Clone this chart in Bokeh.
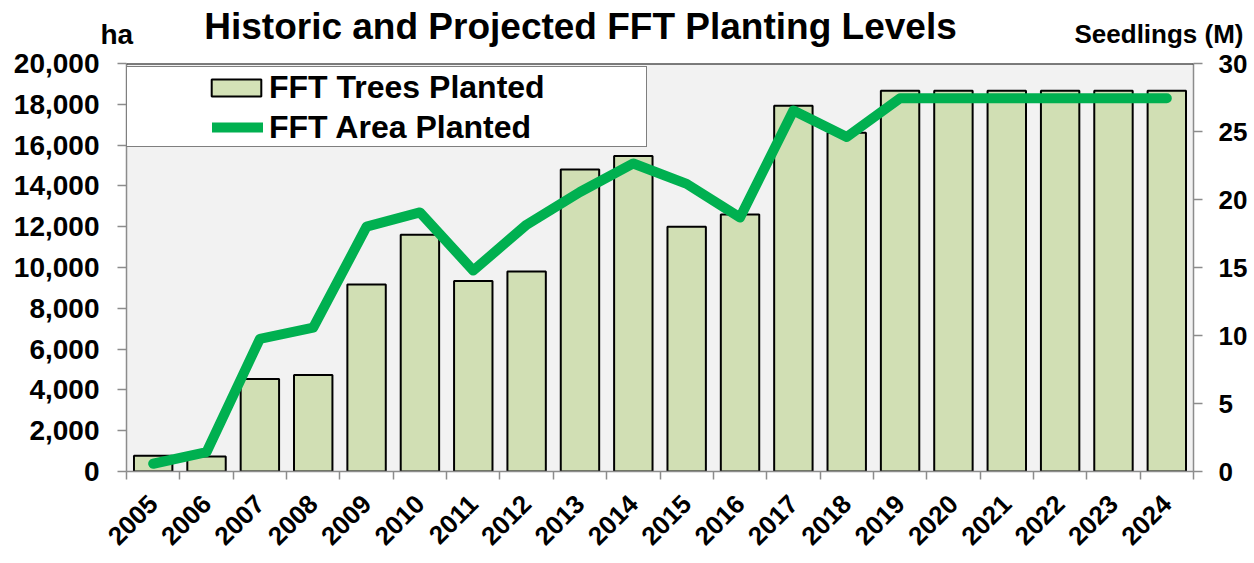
from bokeh.plotting import figure
from bokeh.layouts import column
from bokeh.models import (Range1d, LinearAxis, FixedTicker, NumeralTickFormatter,
                          Label, Legend, LegendItem, Span)
from bokeh.embed import file_html
from bokeh.resources import INLINE
import math

years = list(range(2005, 2025))
trees_m = [1.15, 1.1, 6.8, 7.1, 13.75, 17.4, 14.0, 14.7, 22.2, 23.2,
           18.0, 18.9, 26.9, 24.9, 28.0, 28.0, 28.0, 28.0, 28.0, 28.0]
area_ha = [380, 950, 6500, 7050, 12000, 12700, 9850, 12100, 13700, 15100,
           14100, 12450, 17700, 16400, 18300, 18300, 18300, 18300, 18300, 18300]
left_ticks = list(range(0, 20001, 2000))
right_ticks = [0, 5, 10, 15, 20, 25, 30]

FONT = "Liberation Sans"
GRID = "#8c8c8c"
W = 1254
HEAD_H = 52
MAIN_H = 563 - HEAD_H

# ---------- header with the title texts ----------
head = figure(width=W, height=HEAD_H, output_backend="svg", toolbar_location=None,
              x_range=Range1d(0, W), y_range=Range1d(0, HEAD_H),
              min_border=0, x_axis_type=None, y_axis_type=None)
head.frame_align = False
head.outline_line_color = None
head.xgrid.visible = False
head.ygrid.visible = False
head.background_fill_color = "white"
head.border_fill_color = "white"
head.add_layout(Label(x=580, y=26, x_units="screen", y_units="screen",
                      text="Historic and Projected FFT Planting Levels",
                      text_align="center", text_baseline="alphabetic",
                      text_font=FONT, text_font_style="bold", text_font_size="37px",
                      text_color="black"))
head.add_layout(Label(x=100, y=18, x_units="screen", y_units="screen", text="ha",
                      text_align="left", text_baseline="alphabetic",
                      text_font=FONT, text_font_style="bold", text_font_size="28px",
                      text_color="black"))
head.add_layout(Label(x=1074, y=19, x_units="screen", y_units="screen", text="Seedlings (M)",
                      text_align="left", text_baseline="alphabetic",
                      text_font=FONT, text_font_style="bold", text_font_size="26px",
                      text_color="black"))

# ---------- main chart ----------
p = figure(width=W, height=MAIN_H, output_backend="svg", toolbar_location=None,
           x_range=Range1d(years[0] - 0.5, years[-1] + 0.5),
           y_range=Range1d(0, 20000),
           min_border_left=126, min_border_right=61, min_border_top=11, min_border_bottom=92,
           x_axis_type=None, y_axis_type=None)
p.frame_align = False
p.extra_y_ranges = {"seed": Range1d(0, 30)}
p.border_fill_color = "white"
p.background_fill_color = "#f2f2f2"
p.outline_line_color = None

xa = LinearAxis(ticker=FixedTicker(ticks=years,
                                   minor_ticks=[y - 0.5 for y in years] + [years[-1] + 0.5]))
xa.axis_line_color = GRID
xa.axis_line_width = 1.5
xa.major_tick_line_color = None
xa.minor_tick_line_color = GRID
xa.minor_tick_line_width = 1.5
xa.minor_tick_in = 0
xa.minor_tick_out = 8
xa.major_label_orientation = math.pi / 4
xa.major_label_text_font = FONT
xa.major_label_text_font_style = "bold"
xa.major_label_text_font_size = "26px"
xa.major_label_text_color = "black"
xa.major_label_standoff = 20
p.add_layout(xa, "below")

ya = LinearAxis(ticker=FixedTicker(ticks=left_ticks), formatter=NumeralTickFormatter(format="0,0"))
ya.axis_line_color = GRID
ya.axis_line_width = 1.5
ya.major_tick_line_color = GRID
ya.major_tick_line_width = 1.5
ya.major_tick_in = 0
ya.major_tick_out = 9
ya.minor_tick_line_color = None
ya.major_label_text_font = FONT
ya.major_label_text_font_style = "bold"
ya.major_label_text_font_size = "28px"
ya.major_label_text_color = "black"
ya.major_label_standoff = 18
p.add_layout(ya, "left")

ra = LinearAxis(y_range_name="seed", ticker=FixedTicker(ticks=right_ticks))
ra.axis_line_color = GRID
ra.axis_line_width = 1.5
ra.major_tick_line_color = GRID
ra.major_tick_line_width = 1.5
ra.major_tick_in = 0
ra.major_tick_out = 9
ra.minor_tick_line_color = None
ra.major_label_text_font = FONT
ra.major_label_text_font_style = "bold"
ra.major_label_text_font_size = "26px"
ra.major_label_text_color = "black"
ra.major_label_standoff = 16
p.add_layout(ra, "right")

p.ygrid.ticker = FixedTicker(ticks=left_ticks)
p.ygrid.grid_line_color = GRID
p.ygrid.grid_line_width = 1.5
p.xgrid.grid_line_color = None

bars = p.vbar(x=years, top=trees_m, width=0.72, y_range_name="seed",
              fill_color="#c4d79b", fill_alpha=0.72, line_color="black", line_width=2)
line = p.line(years, area_ha, line_color="#00b050", line_width=10,
              line_cap="round", line_join="round")

p.add_layout(Span(location=20000, dimension="width", line_color="black", line_width=2))

# legend frame: an empty legend used only as the white bordered box
dummy = p.line(x=[], y=[], line_alpha=0)
box = Legend(items=[LegendItem(label="\u00a0", renderers=[dummy])],
             location=(0, 324), padding=0, margin=0, spacing=0,
             glyph_width=19, glyph_height=79, label_width=500, label_height=79,
             label_standoff=0, border_line_color="black", border_line_width=1.5,
             background_fill_color="white", background_fill_alpha=1.0,
             label_text_font_size="10px")
leg1 = Legend(items=[LegendItem(label="FFT Trees Planted", renderers=[bars])],
              location=(79, 364), padding=0, margin=0, spacing=0,
              glyph_width=62, glyph_height=21, label_height=40, label_standoff=2,
              border_line_color=None, background_fill_alpha=0,
              label_text_font=FONT, label_text_font_style="bold",
              label_text_font_size="32px", label_text_color="black")
leg2 = Legend(items=[LegendItem(label="FFT Area Planted", renderers=[line])],
              location=(86, 324), padding=0, margin=0, spacing=0,
              glyph_width=51, glyph_height=40, label_height=40, label_standoff=6,
              border_line_color=None, background_fill_alpha=0,
              label_text_font=FONT, label_text_font_style="bold",
              label_text_font_size="32px", label_text_color="black")
p.add_layout(box)
p.add_layout(leg1)
p.add_layout(leg2)

layout = column(head, p, spacing=0)
open("out.html", "w").write(file_html(layout, INLINE))
